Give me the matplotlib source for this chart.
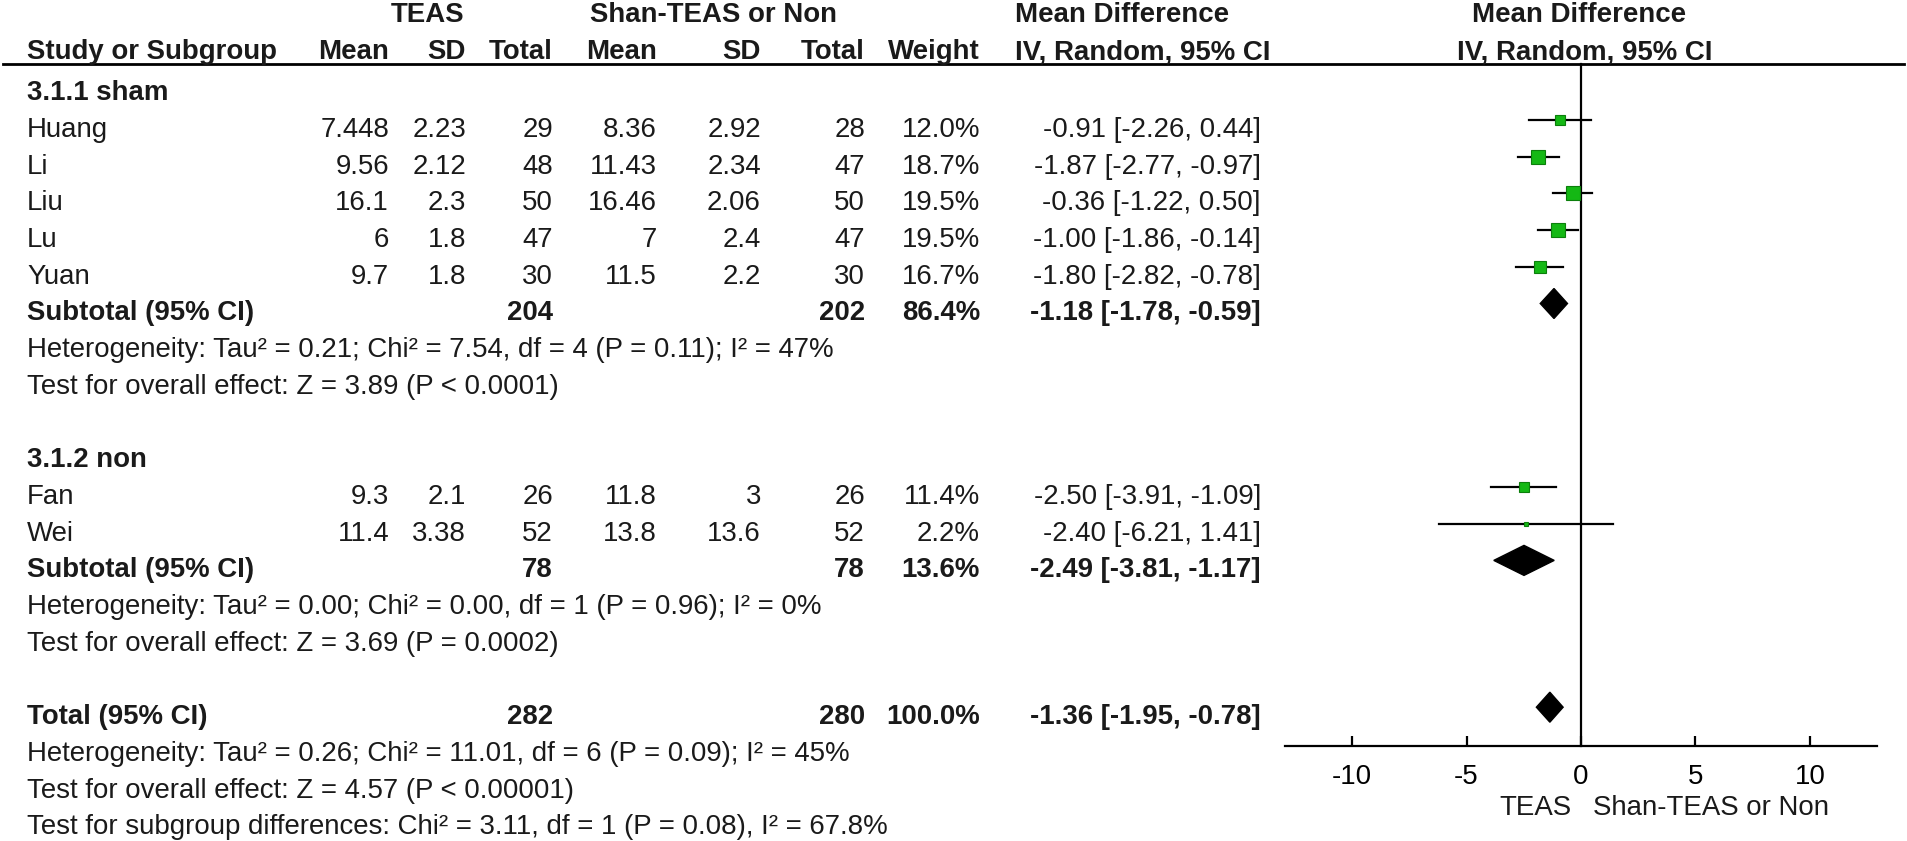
import numpy as np
import matplotlib
matplotlib.use('Agg')
import matplotlib.pyplot as plt
from matplotlib.patches import Polygon

plt.rcParams['font.family'] = ['Liberation Sans', 'DejaVu Sans']

# study level data
studies = ['Huang', 'Li', 'Liu', 'Lu', 'Yuan', 'Fan', 'Wei']
teas_mean = [7.448, 9.56, 16.1, 6, 9.7, 9.3, 11.4]
teas_sd = [2.23, 2.12, 2.3, 1.8, 1.8, 2.1, 3.38]
teas_n = [29, 48, 50, 47, 30, 26, 52]
ctrl_mean = [8.36, 11.43, 16.46, 7, 11.5, 11.8, 13.8]
ctrl_sd = [2.92, 2.34, 2.06, 2.4, 2.2, 3, 13.6]
ctrl_n = [28, 47, 50, 47, 30, 26, 52]
weight = [12.0, 18.7, 19.5, 19.5, 16.7, 11.4, 2.2]
md = [-0.91, -1.87, -0.36, -1.00, -1.80, -2.50, -2.40]
md_lo = [-2.26, -2.77, -1.22, -1.86, -2.82, -3.91, -6.21]
md_hi = [0.44, -0.97, 0.50, -0.14, -0.78, -1.09, 1.41]

# subgroups
sub_names = ['3.1.1 sham', '3.1.2 non']
sub_members = [[0, 1, 2, 3, 4], [5, 6]]
sub_teas_n = [204, 78]
sub_ctrl_n = [202, 78]
sub_weight = [86.4, 13.6]
sub_md = [-1.18, -2.49]
sub_lo = [-1.78, -3.81]
sub_hi = [-0.59, -1.17]
sub_het = ['Heterogeneity: Tau² = 0.21; Chi² = 7.54, df = 4 (P = 0.11); I² = 47%',
           'Heterogeneity: Tau² = 0.00; Chi² = 0.00, df = 1 (P = 0.96); I² = 0%']
sub_z = ['Test for overall effect: Z = 3.89 (P < 0.0001)',
         'Test for overall effect: Z = 3.69 (P = 0.0002)']

# overall
tot_teas_n, tot_ctrl_n, tot_weight = 282, 280, 100.0
tot_md, tot_lo, tot_hi = -1.36, -1.95, -0.78
tot_notes = ['Heterogeneity: Tau² = 0.26; Chi² = 11.01, df = 6 (P = 0.09); I² = 45%',
             'Test for overall effect: Z = 4.57 (P < 0.00001)',
             'Test for subgroup differences: Chi² = 3.11, df = 1 (P = 0.08), I² = 67.8%']

ticks = [-10, -5, 0, 5, 10]

W, H = 1907, 841
fig = plt.figure(figsize=(W / 100, H / 100), dpi=100)
ax = fig.add_axes([0, 0, 1, 1])
ax.set_xlim(0, W)
ax.set_ylim(H, 0)
ax.axis('off')

FS = 19.9
# column right edges (pixels)
col_x = [389, 466, 553, 657, 761, 865, 980]
x_name = 27
x_ci = 1261
x_lo, x_hi = 1285, 1877   # forest axis extent
xr = 12.93

fa = fig.add_axes([x_lo / W, 0, (x_hi - x_lo) / W, 1])
fa.set_xlim(-xr, xr)
fa.set_ylim(H, 0)
fa.patch.set_alpha(0)
for s in ['top', 'left', 'right']:
    fa.spines[s].set_visible(False)
fa.spines['bottom'].set_position(('data', 746))
fa.spines['bottom'].set_linewidth(1.6)
fa.set_yticks([])
fa.set_xticks(ticks)
fa.set_xticklabels([str(t) for t in ticks])
fa.tick_params(axis='x', direction='in', length=7, width=1.6, pad=13, labelsize=FS)


def txt(x, y, s, ha='left', bold=False):
    ax.text(x, y, s, ha=ha, va='center', fontsize=FS,
            fontweight='bold' if bold else 'normal', color='#1a1a1a')


# headers
txt(428, 15, 'TEAS', 'center', True)
txt(713, 15, 'Shan-TEAS or Non', 'center', True)
txt(1015, 15, 'Mean Difference', 'left', True)
txt(1579, 15, 'Mean Difference', 'center', True)
txt(x_name, 52, 'Study or Subgroup', 'left', True)
for x, lab in zip(col_x, ['Mean', 'SD', 'Total', 'Mean', 'SD', 'Total', 'Weight']):
    txt(x, 52, lab, 'right', True)
txt(1015, 52, 'IV, Random, 95% CI', 'left', True)
txt(1585, 52, 'IV, Random, 95% CI', 'center', True)
ax.plot([3, 1904], [64, 64], color='black', lw=2.0)

# zero line
fa.plot([0, 0], [64, 746], color='black', lw=1.6)

dy = 36.7
y0 = 130
off = 10


def ci_text(m, l, h):
    return f'{m:.2f} [{l:.2f}, {h:.2f}]'


def diamond(m, l, h, y):
    yy = y - off
    fa.add_patch(Polygon([[l, yy], [m, yy - 15], [h, yy], [m, yy + 15]],
                         closed=True, color='black'))


k = -1
for g in range(len(sub_names)):
    y = y0 + k * dy
    txt(x_name, y, sub_names[g], bold=True)
    k += 1
    for i in sub_members[g]:
        y = y0 + k * dy
        txt(x_name, y, studies[i])
        vals = [teas_mean[i], teas_sd[i], teas_n[i], ctrl_mean[i], ctrl_sd[i], ctrl_n[i]]
        for x, v in zip(col_x[:6], vals):
            txt(x, y, f'{v:g}', 'right')
        txt(col_x[6], y, f'{weight[i]:.1f}%', 'right')
        txt(x_ci, y, ci_text(md[i], md_lo[i], md_hi[i]), 'right')
        fa.plot([md_lo[i], md_hi[i]], [y - off, y - off], color='black', lw=1.6)
        # square side ~ 3 px * sqrt(weight)
        fa.plot(md[i], y - off, marker='s', ms=3.1 * np.sqrt(weight[i]) * 0.72,
                mfc='#14b814', mec='#0b7f0b', mew=0.8)
        k += 1
    y = y0 + k * dy
    txt(x_name, y, 'Subtotal (95% CI)', bold=True)
    txt(col_x[2], y, str(sub_teas_n[g]), 'right', True)
    txt(col_x[5], y, str(sub_ctrl_n[g]), 'right', True)
    txt(col_x[6], y, f'{sub_weight[g]:.1f}%', 'right', True)
    txt(x_ci, y, ci_text(sub_md[g], sub_lo[g], sub_hi[g]), 'right', True)
    diamond(sub_md[g], sub_lo[g], sub_hi[g], y)
    k += 1
    txt(x_name, y0 + k * dy, sub_het[g])
    k += 1
    txt(x_name, y0 + k * dy, sub_z[g])
    k += 2

y = y0 + k * dy
txt(x_name, y, 'Total (95% CI)', bold=True)
txt(col_x[2], y, str(tot_teas_n), 'right', True)
txt(col_x[5], y, str(tot_ctrl_n), 'right', True)
txt(col_x[6], y, f'{tot_weight:.1f}%', 'right', True)
txt(x_ci, y, ci_text(tot_md, tot_lo, tot_hi), 'right', True)
diamond(tot_md, tot_lo, tot_hi, y)
for note in tot_notes:
    k += 1
    txt(x_name, y0 + k * dy, note)

# favours labels
txt(1572, 808, 'TEAS', 'right')
txt(1593, 808, 'Shan-TEAS or Non', 'left')

fig.savefig('out.png', dpi=100)
